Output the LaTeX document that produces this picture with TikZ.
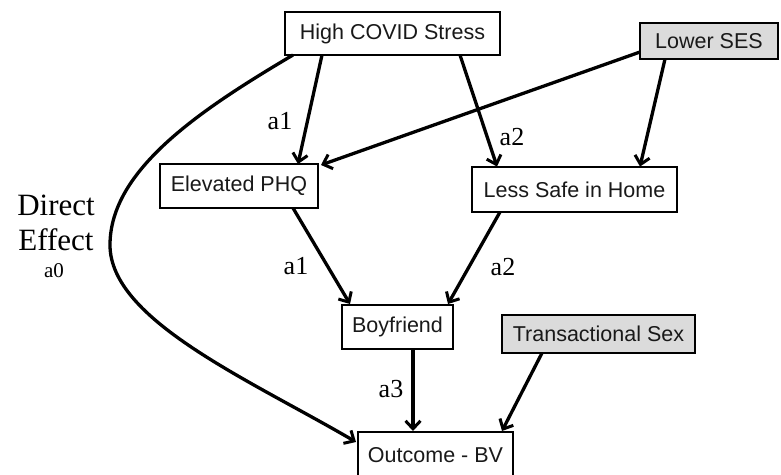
\documentclass[tikz,border=0pt]{standalone}
\usepackage{fontspec}
\setmainfont{Liberation Serif}
\newfontfamily\boxfont{Liberation Sans}
\usetikzlibrary{arrows.meta}
\tikzset{
  varbox/.style={draw=black, line width=2pt, fill=white, inner sep=0pt,
    font=\boxfont\fontsize{21.5}{24}\selectfont, text=black!90},
  graybox/.style={varbox, fill=black!14},
  path/.style={line width=3.3pt, -{Straight Barb[length=8pt,width=15pt,line width=3pt]}},
  lab/.style={font=\fontsize{26}{28}\selectfont, inner sep=0pt}
}
\begin{document}
\begin{tikzpicture}[x=1pt,y=-1pt]
\clip (0,0) rectangle (781,474);
\fill[white] (0,0) rectangle (781,474);
\node[varbox, minimum width=215pt, minimum height=43pt] (hcs) at (392.5,33.5) {High COVID Stress};
\node[graybox, minimum width=138pt, minimum height=36pt] (ses) at (709,41) {Lower SES};
\node[varbox, minimum width=158pt, minimum height=44pt] (phq) at (239,186) {Elevated PHQ};
\node[varbox, minimum width=205pt, minimum height=45pt] (lsh) at (574.5,189.5) {Less Safe in Home};
\node[varbox, minimum width=111pt, minimum height=44pt] (bf) at (397.5,327) {Boyfriend};
\node[graybox, minimum width=193pt, minimum height=38pt] (ts) at (598.5,334) {Transactional Sex};
\node[varbox, minimum width=155pt, minimum height=48pt] (out) at (435.5,456) {};
\node[font=\boxfont\fontsize{21.5}{24}\selectfont, text=black!90, inner sep=0pt] (outlab) at (435.5,455) {Outcome - BV};

\coordinate (c1) at (110,245);
\draw[path] (322,55) -- (298,164);
\draw[path] (460,55) -- (497,166.5);
\draw[path] (640,52) -- (321,165);
\draw[path] (665,59) -- (640,166.5);
\draw[path] (293,208) -- (350,304);
\draw[path] (500,212) -- (448,304);
\draw[path] (413,349) -- (413,431);
\draw[path] (542,353) -- (502,431);
\draw[path] (293,55) .. controls (200,110) and (110,170) .. (c1)
  .. controls (110,320) and (250,380) .. (356,442);

\node[lab] (la1) at (280,121) {a1};
\node[lab] (la2) at (512,137) {a2};
\node[lab] (lb1) at (296,266) {a1};
\node[lab] (lb2) at (503,267) {a2};
\node[lab] (la3) at (391,389) {a3};
\node[font=\fontsize{31}{34}\selectfont, inner sep=0pt] (d1) at (56,205) {Direct};
\node[font=\fontsize{31}{34}\selectfont, inner sep=0pt] (d2) at (56,240) {Effect};
\node[font=\fontsize{21}{24}\selectfont, inner sep=0pt] (a0) at (54,271) {a0};
\end{tikzpicture}
\end{document}
